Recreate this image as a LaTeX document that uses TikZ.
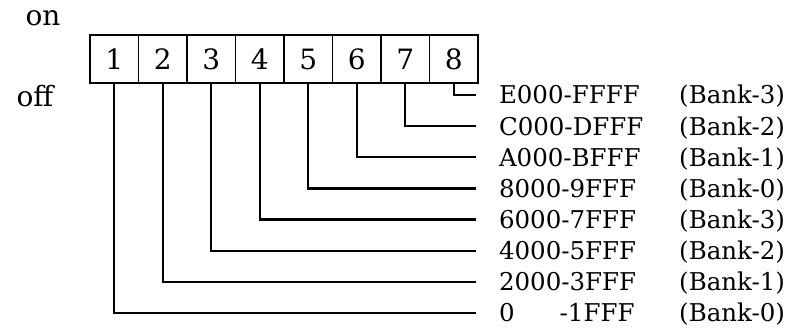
\documentclass[tikz,border=0pt]{standalone}
\usepackage{fontspec}
\setmainfont{DejaVu Serif}
\usepackage{tikz}

\begin{document}
\begin{tikzpicture}[x=1pt,y=-1pt,
	txt/.style={font=\fontsize{24.5}{28}\selectfont,inner sep=0pt},
	big/.style={font=\fontsize{28}{30}\selectfont,inner sep=0pt},
	switch/.style={big,draw,line width=1.8pt,minimum width=48.5pt,minimum height=48pt,outer sep=0pt},
	addr/.style={txt,anchor=base west,outer xsep=23pt},
	bank/.style={txt,anchor=base west},
	wire/.style={line width=2.2pt}]
	\useasboundingbox (0,0) rectangle (805,328);

	\node [big] (on) at (43,18) {on};
	\node [big] (off) at (35,96) {off};

	\node [switch] (sw1) at (114.25,59) {1};
	\node [switch] (sw2) at (162.75,59) {2};
	\node [switch] (sw3) at (211.25,59) {3};
	\node [switch] (sw4) at (259.75,59) {4};
	\node [switch] (sw5) at (308.25,59) {5};
	\node [switch] (sw6) at (356.75,59) {6};
	\node [switch] (sw7) at (405.25,59) {7};
	\node [switch] (sw8) at (453.75,59) {8};

	\node [addr] (r8) at (476,103.9) {E000-FFFF};
	\node [addr] (r7) at (476,135.1) {C000-DFFF};
	\node [addr] (r6) at (476,166.2) {A000-BFFF};
	\node [addr] (r5) at (476,197.4) {8000-9FFF};
	\node [addr] (r4) at (476,228.5) {6000-7FFF};
	\node [addr] (r3) at (476,259.7) {4000-5FFF};
	\node [addr] (r2) at (476,290.8) {2000-3FFF};
	\node [addr] (r1) at (476,321.9) {0\hspace{1.84em}-1FFF};

	\node [bank] (b8) at (679,103.9) {(Bank-3)};
	\node [bank] (b7) at (679,135.1) {(Bank-2)};
	\node [bank] (b6) at (679,166.2) {(Bank-1)};
	\node [bank] (b5) at (679,197.4) {(Bank-0)};
	\node [bank] (b4) at (679,228.5) {(Bank-3)};
	\node [bank] (b3) at (679,259.7) {(Bank-2)};
	\node [bank] (b2) at (679,290.8) {(Bank-1)};
	\node [bank] (b1) at (679,321.9) {(Bank-0)};

	\draw [wire] (sw1.south) |- (r1.west);
	\draw [wire] (sw2.south) |- (r2.west);
	\draw [wire] (sw3.south) |- (r3.west);
	\draw [wire] (sw4.south) |- (r4.west);
	\draw [wire] (sw5.south) |- (r5.west);
	\draw [wire] (sw6.south) |- (r6.west);
	\draw [wire] (sw7.south) |- (r7.west);
	\draw [wire] (sw8.south) |- (r8.west);
\end{tikzpicture}
\end{document}
